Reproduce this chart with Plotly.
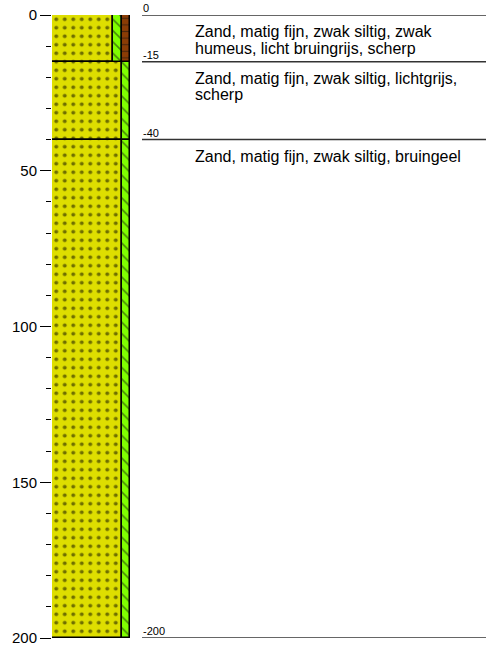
import plotly.graph_objects as go

# ---- data ----
layer_top = [0, 15, 40]
layer_bottom = [15, 40, 200]
silt = [True, True, True]      # zwak siltig
humus = [True, False, False]   # zwak humeus
descriptions = [
    ["Zand, matig fijn, zwak siltig, zwak", "humeus, licht bruingrijs, scherp"],
    ["Zand, matig fijn, zwak siltig, lichtgrijs,", "scherp"],
    ["Zand, matig fijn, zwak siltig, bruingeel"],
]
depth_ticks = [0, 50, 100, 150, 200]

# ---- styling/geometry (pixel-like x units) ----
COL_W = 78
STRIP_W = 8.5
YELLOW = "#DEDE00"
GREEN = "#80FF00"
BROWN = "#8A3C05"
FONT = "Liberation Sans, Arial, sans-serif"

thick = [b - t for t, b in zip(layer_top, layer_bottom)]

sand_x, sand_w = [], []
silt_x, silt_w, silt_base, silt_y = [], [], [], []
hum_x, hum_w, hum_base, hum_y = [], [], [], []
for i in range(len(layer_top)):
    n_strips = int(silt[i]) + int(humus[i])
    sw = COL_W - n_strips * STRIP_W
    sand_x.append(sw / 2)
    sand_w.append(sw)
    pos = sw
    if silt[i]:
        silt_x.append(pos + STRIP_W / 2); silt_w.append(STRIP_W)
        silt_base.append(layer_top[i]); silt_y.append(thick[i])
        pos += STRIP_W
    if humus[i]:
        hum_x.append(pos + STRIP_W / 2); hum_w.append(STRIP_W)
        hum_base.append(layer_top[i]); hum_y.append(thick[i])
        pos += STRIP_W

line = dict(color="black", width=1.5)
fig = go.Figure()
fig.add_trace(go.Bar(
    x=sand_x, width=sand_w, base=layer_top, y=thick,
    marker=dict(color=YELLOW, line=line,
                pattern=dict(shape=".", bgcolor=YELLOW, fgcolor="#000000",
                             size=8.5, solidity=0.17)),
    hoverinfo="skip", showlegend=False))
fig.add_trace(go.Bar(
    x=silt_x, width=silt_w, base=silt_base, y=silt_y,
    marker=dict(color=GREEN, line=line,
                pattern=dict(shape="\\", bgcolor=GREEN, fgcolor="#111111",
                             size=8, solidity=0.2)),
    hoverinfo="skip", showlegend=False))
fig.add_trace(go.Bar(
    x=hum_x, width=hum_w, base=hum_base, y=hum_y,
    marker=dict(color=BROWN, line=line,
                pattern=dict(shape="-", bgcolor=BROWN, fgcolor="#111111",
                             size=6.6, solidity=0.18)),
    hoverinfo="skip", showlegend=False))

# boundary lines and labels
bounds = sorted(set(layer_top + layer_bottom))
shapes = []
annotations = []
for d in bounds:
    shapes.append(dict(type="line", xref="x", yref="y", x0=90, x1=434, y0=d, y1=d,
                       line=dict(color="#333333", width=1.5)))
    annotations.append(dict(x=88.5, y=d, xref="x", yref="y", text=str(-d) if d else "0",
                            showarrow=False, xanchor="left", yanchor="bottom",
                            font=dict(family=FONT, size=11, color="black"), yshift=-1))
for t, lines in zip(layer_top, descriptions):
    for k, txt in enumerate(lines):
        annotations.append(dict(x=141, y=t, xref="x", yref="y", text=txt, align="left",
                                showarrow=False, xanchor="left", yanchor="middle",
                                yshift=-(16.4 + 16.7 * k),
                                font=dict(family=FONT, size=16, color="black")))

fig.update_layout(
    width=486, height=650,
    margin=dict(l=52, r=0, t=15, b=12),
    paper_bgcolor="white", plot_bgcolor="white",
    barmode="overlay", bargap=0,
    shapes=shapes, annotations=annotations,
    xaxis=dict(range=[0, 434], visible=False, fixedrange=True),
    yaxis=dict(range=[200, 0], tickvals=depth_ticks, ticks="outside", ticklen=11,
               tickcolor="black", tickwidth=1, showgrid=False, zeroline=False,
               showline=False, tickfont=dict(family=FONT, size=15, color="black"),
               minor=dict(dtick=10, ticks="outside", ticklen=5, tickcolor="black",
                          showgrid=False),
               fixedrange=True),
    font=dict(family=FONT),
)
fig.write_html("out.html", config={"displayModeBar": False},
               post_script="document.body.style.margin='0';document.body.style.padding='0';")
